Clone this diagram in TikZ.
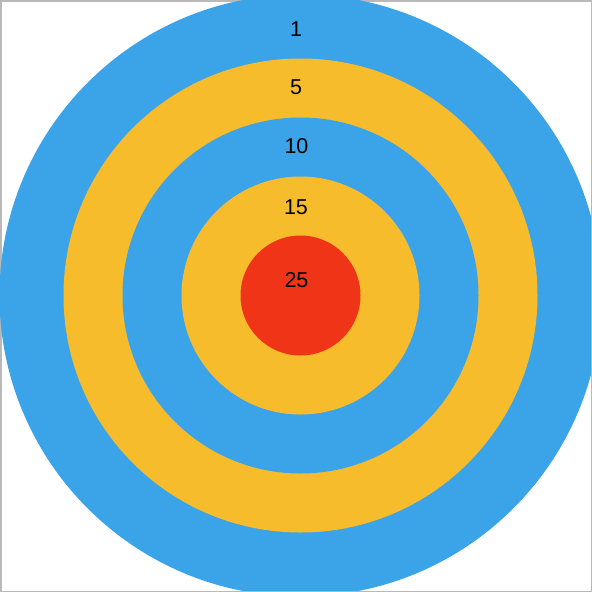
\documentclass[tikz,border=0pt]{standalone}
\usepackage{fontspec}
\setmainfont{Liberation Sans}
\usepackage{xcolor}
\usetikzlibrary{positioning}
\definecolor{ringblue}{HTML}{3BA3E8}
\definecolor{ringyellow}{HTML}{F7BC2C}
\definecolor{ringred}{HTML}{EF3418}

\begin{document}
\begin{tikzpicture}[x=1pt,y=-1pt,
  score/.style={font=\fontsize{21.5}{21.5}\selectfont, text=black, inner sep=0pt}]
  % frame
  \useasboundingbox (0,0) rectangle (592,592);
  \fill[white] (0,0) rectangle (592,592);
  \draw[gray!55, line width=1.5pt] (0.75,0.75) rectangle (591.25,591.25);
  % rings
  \begin{scope}
    \clip (0,0) rectangle (592,592);
    \fill[ringblue]   (300.5,295.5) circle (301);
    \fill[ringyellow] (300.5,295.5) circle (237);
    \fill[ringblue]   (300.5,295.5) circle (178);
    \fill[ringyellow] (300.5,295.5) circle (119);
    \fill[ringred]    (300.5,295.5) circle (60);
  \end{scope}
  \draw[gray!55, line width=1pt] (591.5,0) -- (591.5,591.5) -- (0,591.5);
  % scores
  \node[score] (s1)  at (296,29)  {1};
  \node[score] (s5)  at (296,87.5) {5};
  \node[score] (s10) at (296.5,146) {10};
  \node[score] (s15) at (296,207) {15};
  \node[score] (s25) at (296.5,280) {25};
\end{tikzpicture}
\end{document}
